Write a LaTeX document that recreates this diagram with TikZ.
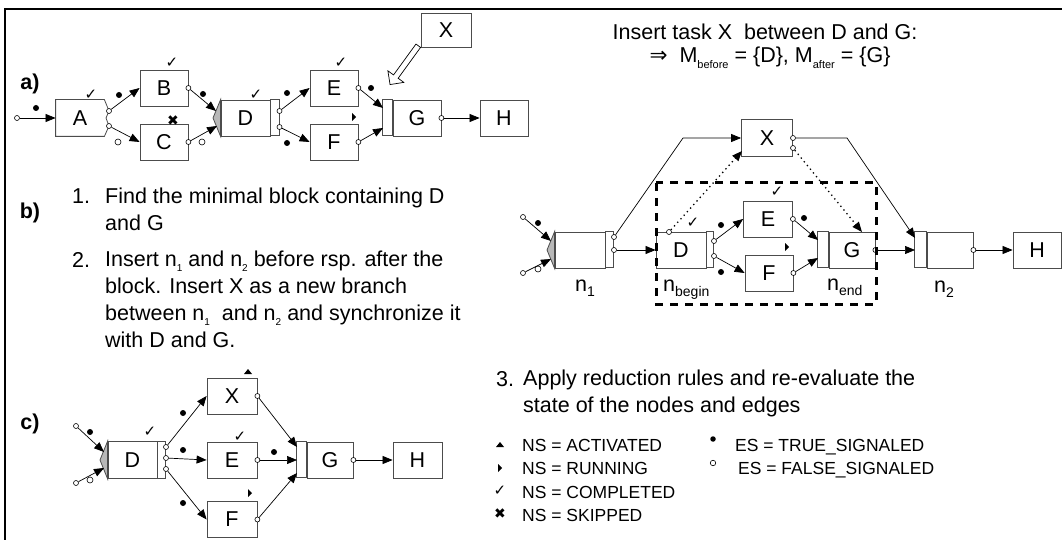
\documentclass[tikz,border=0pt]{standalone}
\usepackage{fontspec}
\setmainfont{Liberation Sans}
\newfontfamily\symfont{DejaVu Sans}
\usetikzlibrary{arrows.meta,shapes.arrows}
\newcommand\sub[2][11]{\raisebox{-0.45ex}{\fontsize{#1}{#1}\selectfont #2}}

\begin{document}
\begin{tikzpicture}[
  x=1pt,y=-1pt,
  font=\fontsize{21.5}{27}\selectfont,
  task/.style={draw=black!70,line width=0.8pt,fill=white,minimum width=48,minimum height=36,inner sep=0},
  strip/.style={draw=black!70,line width=0.8pt},
  xorj/.style={draw=black!70,line width=0.8pt,fill=black!28},
  port/.style={circle,draw,fill=white,line width=0.6pt,inner sep=0,minimum size=5},
  tsig/.style={circle,fill,inner sep=0,minimum size=6},
  fsig/.style={circle,draw,line width=0.6pt,inner sep=0,minimum size=6},
  flow/.style={line width=0.7pt,-{Triangle[length=10pt,width=8pt]}},
  sync/.style={flow,line width=1.3pt,dash pattern=on 1.3pt off 3.5pt},
  tick/.style={inner sep=0,font=\symfont\fontsize{15}{15}\selectfont},
  skp/.style={inner sep=0,font=\symfont\fontsize{14}{14}\selectfont},
  hollow/.style={single arrow,draw,line width=0.7pt,fill=white,inner sep=2.5pt,single arrow head extend=7pt,minimum height=48},
  lbl/.style={font=\fontsize{21.5}{21.5}\selectfont\bfseries},
  txt/.style={anchor=base west,inner sep=0},
  para/.style={anchor=north west,align=left,inner sep=0},
  leg/.style={anchor=base west,inner sep=0,font=\fontsize{17.5}{17.5}\selectfont},
]
\useasboundingbox (0,0) rectangle (1062,540);
\draw[line width=2.5pt] (5,540) -- (5,9) -- (1062,9);

% a) the running instance
\node[lbl] (la) at (30,84) {a)};
\node[port] (ain) at (17,118) {};
\node[task,draw=none] (aA) at (80,118) {A};
\draw[strip] (aA.north east) -- (aA.north west) -- (aA.south west) -- (aA.south east)
  -- (109,126) -- (106,118) -- (109,111) -- cycle;
\node[port] (aAp1) at (109,111) {};
\node[port] (aAp2) at (109,126) {};
\node[task] (aB) at (164,88) {B};
\node[task] (aC) at (164,142) {C};
\node[port] (aBp) at (aB.east) {};
\node[port] (aCp) at (aC.east) {};
\node[task,minimum width=49] (aD) at (245.5,118) {D};
\draw[strip] (aD.north east) rectangle ++(9,36);
\filldraw[xorj] (aD.north west) -- (213,118) -- (aD.south west) -- cycle;
\node[port] (aDp1) at (279.5,111) {};
\node[port] (aDp2) at (279.5,127) {};
\node[task] (aE) at (334,88) {E};
\node[task] (aF) at (334,142) {F};
\node[port] (aEp) at (aE.east) {};
\node[port] (aFp) at (aF.east) {};
\node[task] (aG) at (417,118) {G};
\draw[strip] (aG.north west) rectangle ++(-10,36);
\node[port] (aGp) at (aG.east) {};
\node[task] (aH) at (504,118) {H};
\node[task,minimum width=50,minimum height=34] (aX) at (446,30) {X};
\node[hollow,rotate=234] (aIns) at (405,64) {};
\coordinate (aDi1) at (216,111);
\coordinate (aDi2) at (217,126);
\coordinate (aGi1) at (383,108);
\coordinate (aGi2) at (383,128);
\draw[flow] (ain) -- (aA.west);
\draw[flow] (aAp1) -- (aB.west);
\draw[flow] (aAp2) -- (aC.west);
\draw[flow] (aBp) -- (aDi1);
\draw[flow] (aCp) -- (aDi2);
\draw[flow] (aDp1) -- (aE.west);
\draw[flow] (aDp2) -- (aF.west);
\draw[flow] (aEp) -- (aGi1);
\draw[flow] (aFp) -- (aGi2);
\draw[flow] (aGp) -- (aH.west);
\node[tsig] (aS0) at (36,108) {};
\node[tick] (aTa) at (91,95) {✓};
\node[tsig] (aS1) at (119,95) {};
\node[fsig] (aS2) at (118,142) {};
\node[tick] (aTb) at (172,63) {✓};
\node[skp] (aKc) at (173,121) {✖};
\node[tsig] (aS3) at (203,94) {};
\node[fsig] (aS4) at (202,142) {};
\node[tick] (aTd) at (256,95) {✓};
\node[tsig] (aS5) at (287,93) {};
\node[tsig] (aS6) at (287,143) {};
\node[tick] (aTe) at (341,63) {✓};
\node[tsig] (aS7) at (371,88) {};
\fill (352,113) -- (352,121) -- (356,117) -- cycle;

% b) steps
\node[lbl] (lb) at (30,213) {b)};
\node[txt] (nb1) at (72,204) {1.};
\node[para] (st1) at (105,188) {Find the minimal block containing D\\and G};
\node[txt] (nb2) at (72,267) {2.};
\node[para] (st2) at (105,251) {Insert n\sub[10]{1} and n\sub[10]{2} before rsp. after the\\block. Insert X as a new branch\\between n\sub[10]{1}\ \ and n\sub[10]{2} and synchronize it\\with D and G.};
\node[anchor=base] (tIns) at (765,40) {Insert task X\ \ between D and G:};
\node[anchor=base] (tSet) at (770,63) {{\symfont ⇒}\ \ M\sub{before} = \{D\}, M\sub{after} = \{G\}};

% b) the changed block
\node[port] (bIn1) at (523,217) {};
\node[port] (bIn2) at (523,273) {};
\node[task,minimum width=50] (bN1) at (580,250) {};
\draw[strip] (bN1.north east) rectangle ++(8,36);
\filldraw[xorj] (bN1.north west) -- (547,250) -- (bN1.south west) -- cycle;
\node[port] (bN1p1) at (614,237) {};
\node[port] (bN1p2) at (614,250) {};
\node[task,minimum width=51,minimum height=37] (bX) at (767,138) {X};
\node[port] (bXp1) at (793,138) {};
\node[port] (bXp2) at (793,148) {};
\node[task,minimum width=50] (bD) at (681,250) {D};
\draw[strip] (bD.north east) rectangle ++(7,36);
\node[port] (bDs) at (669,232) {};
\node[port] (bDp1) at (714,241) {};
\node[port] (bDp2) at (714,256) {};
\node[task,minimum width=49] (bE) at (768,219) {E};
\node[task] (bF) at (769,273) {F};
\node[port] (bEp) at (bE.east) {};
\node[port] (bFp) at (bF.east) {};
\node[task,minimum width=46] (bG) at (852,250) {G};
\draw[strip] (bG.north west) rectangle ++(-11,36);
\node[port] (bGp) at (bG.east) {};
\node[task,minimum width=46] (bN2) at (950,250) {};
\draw[strip] (bN2.north west) rectangle ++(-12,36);
\node[port] (bN2p) at (bN2.east) {};
\node[task] (bH) at (1037,250) {H};
\coordinate (bN1i1) at (551,241);
\coordinate (bN1i2) at (551,259);
\coordinate (bK1) at (683,138);
\coordinate (bXi) at (742,151);
\coordinate (bGi1) at (818,240);
\coordinate (bGi2) at (818,258);
\coordinate (bGt) at (862,232);
\coordinate (bK2) at (847,138);
\coordinate (bN2i1) at (915,238);
\coordinate (bN2i2) at (915,250);
\draw[flow] (bIn1) -- (bN1i1);
\draw[flow] (bIn2) -- (bN1i2);
\draw[flow] (bN1p1) -- (bK1) -- (bX.west);
\draw[flow] (bN1p2) -- (bD.west);
\draw[sync] (bDs) -- (bXi);
\draw[flow] (bDp1) -- (bE.west);
\draw[flow] (bDp2) -- (bF.west);
\draw[flow] (bEp) -- (bGi1);
\draw[flow] (bFp) -- (bGi2);
\draw[sync] (bXp2) -- (bGt);
\draw[flow] (bXp1) -- (bK2) -- (bN2i1);
\draw[flow] (bGp) -- (bN2i2);
\draw[flow] (bN2p) -- (bH.west);
\draw[line width=3pt,dash pattern=on 8pt off 7pt] (656,183) rectangle (876,304);
\node[tsig] (bS0) at (538,223) {};
\node[fsig] (bS1) at (538,269) {};
\node[tick] (bTd) at (693,223) {✓};
\node[tick] (bTe) at (777,192) {✓};
\node[tsig] (bS2) at (721,225) {};
\node[tsig] (bS3) at (721,272) {};
\node[tsig] (bS4) at (804,218) {};
\fill (785,243) -- (785,251) -- (789,247) -- cycle;
\node[txt] (bL1) at (575,291) {n\sub[14]{1}};
\node[txt] (bL2) at (663,291) {n\sub[14]{begin}};
\node[txt] (bL3) at (827,290) {n\sub[14]{end}};
\node[txt] (bL4) at (934,292) {n\sub[14]{2}};

% c) after reduction
\node[lbl] (lc) at (30,424) {c)};
\node[port] (cIn1) at (76,426) {};
\node[port] (cIn2) at (76,483) {};
\node[task,minimum width=49,minimum height=37] (cD) at (132.5,460) {D};
\draw[strip] (cD.north east) rectangle ++(8,37);
\filldraw[xorj] (cD.north west) -- (100,460) -- (cD.south west) -- cycle;
\node[port] (cDp1) at (166,447) {};
\node[port] (cDp2) at (166,458) {};
\node[port] (cDp3) at (166,469) {};
\node[task,minimum width=50] (cX) at (232,396) {X};
\node[task,minimum width=50] (cE) at (232,460) {E};
\node[task,minimum width=50] (cF) at (232,519.5) {F};
\node[port] (cXp) at (cX.east) {};
\node[port] (cEp) at (cE.east) {};
\node[port] (cFp) at (cF.east) {};
\node[task,minimum width=46] (cG) at (330,460) {G};
\draw[strip] (cG.north west) rectangle ++(-10,36);
\node[port] (cGp) at (cG.east) {};
\node[task,minimum width=49] (cH) at (417.5,460) {H};
\coordinate (cDi1) at (104,452);
\coordinate (cDi2) at (104,468);
\coordinate (cGi1) at (297,447);
\coordinate (cGi2) at (297,460);
\coordinate (cGi3) at (297,473);
\draw[flow] (cIn1) -- (cDi1);
\draw[flow] (cIn2) -- (cDi2);
\draw[flow] (cDp1) -- (cX.west);
\draw[flow] (cDp2) -- (cE.west);
\draw[flow] (cDp3) -- (cF.west);
\draw[flow] (cXp) -- (cGi1);
\draw[flow] (cEp) -- (cGi2);
\draw[flow] (cFp) -- (cGi3);
\draw[flow] (cGp) -- (cH.west);
\node[tsig] (cS0) at (90,432) {};
\node[fsig] (cS1) at (90,480) {};
\node[tick] (cTd) at (150,432) {✓};
\node[tick] (cTe) at (240,437) {✓};
\node[tsig] (cS2) at (183,413) {};
\node[tsig] (cS3) at (183,450) {};
\node[tsig] (cS4) at (183,503) {};
\node[tsig] (cS5) at (274,452) {};
\fill (244,374) -- (252,374) -- (248,369) -- cycle;
\fill (248,489) -- (248,497) -- (252,493) -- cycle;

% step 3 and legend
\node[txt] (nb3) at (496,386) {3.};
\node[para] (st3) at (523,370) {Apply reduction rules and re-evaluate the\\state of the nodes and edges};
\fill (496,447) -- (504,447) -- (500,442) -- cycle;
\fill (498,464) -- (498,472) -- (502,468) -- cycle;
\node[tick] (lgC) at (500,491) {✓};
\node[skp] (lgS) at (500,514) {✖};
\node[leg] (lg1) at (522,451) {NS = ACTIVATED};
\node[leg] (lg2) at (522,474) {NS = RUNNING};
\node[leg] (lg3) at (522,498) {NS = COMPLETED};
\node[leg] (lg4) at (522,521) {NS = SKIPPED};
\node[tsig,minimum size=5.5] (lgT) at (713,439) {};
\node[fsig,minimum size=5.5] (lgF) at (713,463) {};
\node[leg] (lg5) at (735,451) {ES = TRUE\_SIGNALED};
\node[leg] (lg6) at (738,474) {ES = FALSE\_SIGNALED};
\end{tikzpicture}
\end{document}
